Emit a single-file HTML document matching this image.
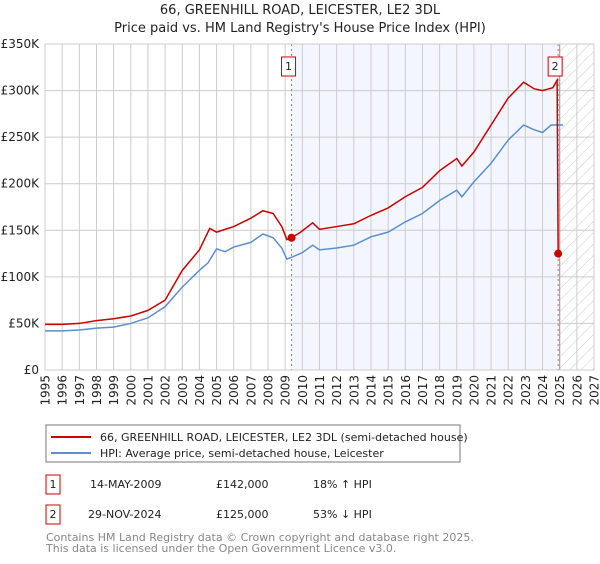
<!DOCTYPE html>
<html><head><meta charset="utf-8"><style>
body{margin:0;background:#fff;font-family:"DejaVu Sans","Liberation Sans",sans-serif;}
svg text{font-family:"DejaVu Sans","Liberation Sans",sans-serif;}
</style></head><body>
<svg id="c" width="600" height="560" xmlns="http://www.w3.org/2000/svg">
<defs><pattern id="hatch" width="8" height="8" patternUnits="userSpaceOnUse" patternTransform="rotate(45)"><line x1="0" y1="0" x2="0" y2="8" stroke="#ccc" stroke-width="1"/></pattern></defs>
<text x="300" y="14" text-anchor="middle" font-size="13" fill="#222">66, GREENHILL ROAD, LEICESTER, LE2 3DL</text>
<text x="300" y="32" text-anchor="middle" font-size="13" fill="#222">Price paid vs. HM Land Registry's House Price Index (HPI)</text>
<g id="grid"></g><g id="series"></g>
<rect x="46" y="425" width="414" height="37" fill="#fff" stroke="#777"/>
<line x1="51" y1="437" x2="91" y2="437" stroke="#cc0000" stroke-width="2"/>
<text x="100" y="441" font-size="11" fill="#222">66, GREENHILL ROAD, LEICESTER, LE2 3DL (semi-detached house)</text>
<line x1="51" y1="453" x2="91" y2="453" stroke="#5b8fd0" stroke-width="2"/>
<text x="100" y="457" font-size="11" fill="#222">HPI: Average price, semi-detached house, Leicester</text>
<g font-size="11" fill="#222">
<rect x="46" y="475" width="14" height="19" fill="#fff" stroke="#cc0000"/><text x="53" y="488" text-anchor="middle">1</text>
<text x="90" y="488">14-MAY-2009</text><text x="216" y="488">£142,000</text><text x="313" y="488">18% ↑ HPI</text></g>
<g font-size="11" fill="#222">
<rect x="46" y="505" width="14" height="19" fill="#fff" stroke="#cc0000"/><text x="53" y="518" text-anchor="middle">2</text>
<text x="88" y="518">29-NOV-2024</text><text x="216" y="518">£125,000</text><text x="313" y="518">53% ↓ HPI</text></g>
<text x="46" y="541" font-size="11" fill="#888">Contains HM Land Registry data © Crown copyright and database right 2025.</text>
<text x="46" y="552" font-size="11" fill="#888">This data is licensed under the Open Government Licence v3.0.</text>
</svg>
<script>
const hpiYears=[1995,1996,1997,1998,1999,2000,2001,2002,2003,2004,2004.5,2005,2005.5,2006,2007,2007.7,2008.3,2008.8,2009.1,2009.5,2010,2010.6,2011,2012,2013,2014,2015,2016,2017,2018,2019,2019.3,2020,2021,2022,2022.9,2023.5,2024,2024.5,2025.2];
const hpiValues=[42,42,43,45,46,50,56,68,89,107,115,130,127,132,137,146,142,131,119,122,126,134,129,131,134,143,148,159,168,182,193,186,202,222,247,263,258,255,263,263];
const priceYears=[1995,1996,1997,1998,1999,2000,2001,2002,2003,2004,2004.6,2005,2006,2007,2007.7,2008.3,2008.8,2009.1,2009.37,2009.9,2010.6,2011,2012,2013,2014,2015,2016,2017,2018,2019,2019.3,2020,2021,2022,2022.9,2023.5,2024,2024.6,2024.85,2024.91];
const priceValues=[49,49,50,53,55,58,64,75,107,129,152,148,154,163,171,168,154,140,142,148,158,151,154,157,166,174,186,196,214,227,219,234,263,292,309,302,300,303,311,125];
const yTicks=[0,50,100,150,200,250,300,350];
const yTickLabels=["£0","£50K","£100K","£150K","£200K","£250K","£300K","£350K"];
const xTicks=[1995,1996,1997,1998,1999,2000,2001,2002,2003,2004,2005,2006,2007,2008,2009,2010,2011,2012,2013,2014,2015,2016,2017,2018,2019,2020,2021,2022,2023,2024,2025,2026,2027];
const sales=[{year:2009.37,value:142,label:"1"},{year:2024.91,value:125,label:"2"}];
const L=45,R=594,T=44,B=370;
const X=y=>L+(y-1995)/(2027-1995)*(R-L);
const Y=v=>B-v/350*(B-T);
const NS="http://www.w3.org/2000/svg";
function mk(p,t,a){const e=document.createElementNS(NS,t);for(const k in a)e.setAttribute(k,a[k]);p.appendChild(e);return e;}
const g=document.getElementById('grid'),s=document.getElementById('series');
const shade=mk(g,'rect',{x:X(sales[0].year),y:T,width:X(2025)-X(sales[0].year),height:B-T,fill:'#f3f6fe'});


const hat=mk(g,'rect',{x:X(2025),y:T,width:R-X(2025),height:B-T,fill:'url(#hatch)'});


yTicks.forEach((v,i)=>{
 const l=mk(g,'line',{x1:L,x2:R,y1:Y(v),y2:Y(v),stroke:'#ccc'});
 
 
 const t=mk(g,'text',{x:39,y:Y(v)+4,'text-anchor':'end','font-size':12,fill:'#222'});
 t.textContent=yTickLabels[i];
 
 
});
xTicks.forEach(yr=>{
 const l=mk(g,'line',{x1:X(yr),x2:X(yr),y1:T,y2:B,stroke:'#ccc'});
 
 
 const t=mk(g,'text',{x:0,y:0,'text-anchor':'end','font-size':12,fill:'#222',transform:`translate(${X(yr)+4.5},375) rotate(-90)`});
 t.textContent=yr;
 
 
});
const fl=mk(g,'line',{x1:X(2025),x2:X(2025),y1:T,y2:B,stroke:'#999'});


sales.forEach(sl=>{
 const d=mk(g,'line',{x1:X(sl.year),x2:X(sl.year),y1:T,y2:B,stroke:'#e06666','stroke-dasharray':'2,3'});
 
 
});
const hp=mk(s,'polyline',{points:hpiYears.map((y,i)=>X(y)+','+Y(hpiValues[i])).join(' '),fill:'none',stroke:'#5b8fd0','stroke-width':1.5});


const pp=mk(s,'polyline',{points:priceYears.map((y,i)=>X(y)+','+Y(priceValues[i])).join(' '),fill:'none',stroke:'#cc0000','stroke-width':1.5});


sales.forEach(sl=>{
 const c=mk(s,'circle',{cx:X(sl.year),cy:Y(sl.value),r:4,fill:'#cc0000'});
 
 
 const bx=X(sl.year)-10;
 const r=mk(s,'rect',{x:bx,y:57,width:14,height:19,fill:'#fff',stroke:'#cc0000'});
 
 
 const t=mk(s,'text',{x:bx+7,y:70,'text-anchor':'middle','font-size':11,fill:'#222'});
 t.textContent=sl.label;
 
 
});
const ax=mk(g,'rect',{x:L,y:T,width:R-L,height:B-T,fill:'none',stroke:'#ccc'});


</script>
</body></html>
